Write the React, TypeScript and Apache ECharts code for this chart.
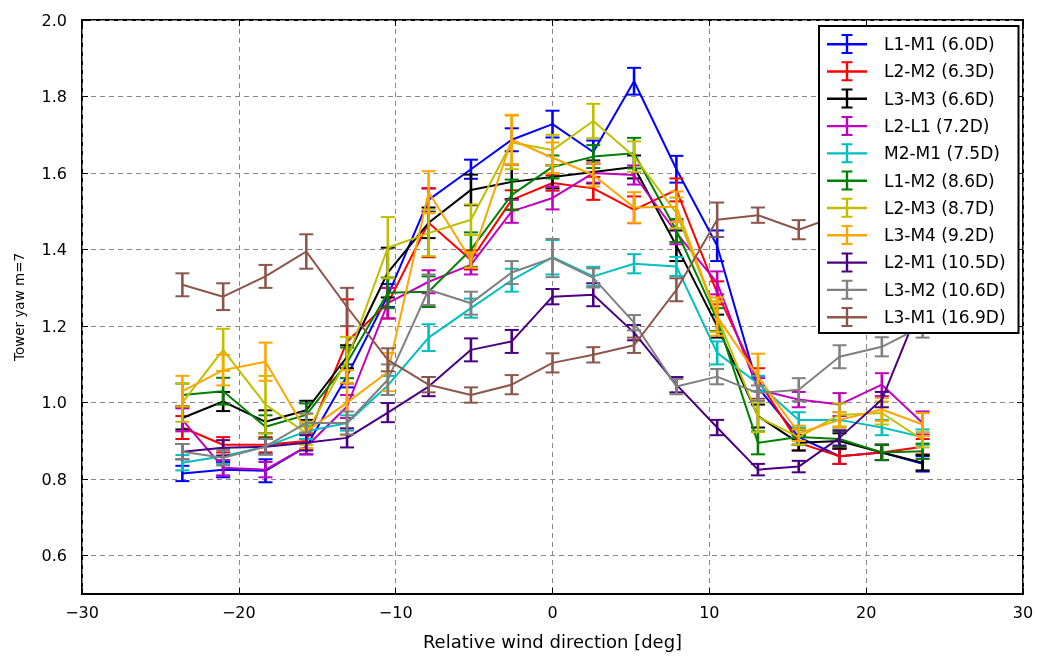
import React, { useEffect, useRef } from "react";
import * as echarts from "echarts";

const windDir = [-23.6, -21.0, -18.3, -15.7, -13.1, -10.5, -7.9, -5.2, -2.6, 0, 2.6, 5.2, 7.9, 10.5, 13.1, 15.7, 18.3, 21.0, 23.6];

const l1m1 = [0.815, 0.825, 0.822, 0.885, 1.07, 1.28, 1.53, 1.61, 1.687, 1.728, 1.655, 1.84, 1.61, 1.41, 1.04, 0.91, 0.86, 0.87, 0.84];
const l1m1Err = [0.02, 0.02, 0.03, 0.02, 0.03, 0.03, 0.03, 0.025, 0.03, 0.035, 0.03, 0.035, 0.035, 0.04, 0.03, 0.02, 0.02, 0.02, 0.02];
const l2m2 = [0.935, 0.89, 0.89, 0.9, 1.16, 1.26, 1.47, 1.373, 1.53, 1.574, 1.56, 1.504, 1.556, 1.287, 1.06, 0.895, 0.86, 0.87, 0.885];
const l2m2Err = [0.03, 0.02, 0.02, 0.02, 0.11, 0.04, 0.09, 0.025, 0.025, 0.02, 0.03, 0.035, 0.03, 0.03, 0.03, 0.02, 0.02, 0.02, 0.02];
const l3m3 = [0.96, 1.003, 0.95, 0.98, 1.12, 1.34, 1.47, 1.556, 1.577, 1.59, 1.603, 1.616, 1.41, 1.2, 0.965, 0.895, 0.9, 0.87, 0.843];
const l3m3Err = [0.03, 0.025, 0.03, 0.025, 0.03, 0.065, 0.04, 0.04, 0.045, 0.03, 0.03, 0.03, 0.04, 0.03, 0.03, 0.02, 0.02, 0.02, 0.02];
const l2l1 = [0.955, 0.83, 0.825, 0.885, 0.99, 1.26, 1.316, 1.36, 1.5, 1.535, 1.6, 1.595, 1.444, 1.313, 1.034, 1.008, 0.995, 1.047, 0.947];
const l2l1Err = [0.03, 0.02, 0.02, 0.02, 0.03, 0.04, 0.03, 0.025, 0.03, 0.03, 0.025, 0.025, 0.03, 0.03, 0.03, 0.02, 0.03, 0.03, 0.03];
const m2m1 = [0.843, 0.86, 0.885, 0.925, 0.947, 1.045, 1.17, 1.247, 1.32, 1.38, 1.33, 1.363, 1.356, 1.13, 1.05, 0.955, 0.955, 0.935, 0.91];
const m2m1Err = [0.02, 0.02, 0.02, 0.02, 0.02, 0.025, 0.035, 0.025, 0.03, 0.045, 0.025, 0.025, 0.025, 0.03, 0.02, 0.02, 0.02, 0.02, 0.02];
const l1m2 = [1.02, 1.03, 0.937, 0.968, 1.104, 1.287, 1.29, 1.4, 1.543, 1.616, 1.643, 1.652, 1.45, 1.217, 0.895, 0.91, 0.905, 0.87, 0.873];
const l1m2Err = [0.03, 0.035, 0.03, 0.03, 0.04, 0.04, 0.04, 0.045, 0.04, 0.03, 0.03, 0.04, 0.03, 0.03, 0.03, 0.02, 0.02, 0.02, 0.02];
const l2m3 = [1.0, 1.138, 0.995, 0.92, 1.112, 1.405, 1.443, 1.478, 1.68, 1.66, 1.736, 1.643, 1.496, 1.225, 0.963, 0.91, 0.968, 0.973, 0.903];
const l2m3Err = [0.05, 0.055, 0.075, 0.03, 0.06, 0.08, 0.06, 0.04, 0.07, 0.04, 0.045, 0.04, 0.04, 0.04, 0.04, 0.02, 0.03, 0.03, 0.02];
const l3m4 = [1.03, 1.085, 1.107, 0.925, 1.0, 1.08, 1.55, 1.373, 1.687, 1.64, 1.595, 1.51, 1.512, 1.225, 1.068, 0.92, 0.955, 0.982, 0.943];
const l3m4Err = [0.04, 0.04, 0.05, 0.045, 0.085, 0.05, 0.055, 0.02, 0.065, 0.04, 0.03, 0.04, 0.04, 0.05, 0.06, 0.02, 0.02, 0.03, 0.03];
const l2m1 = [0.872, 0.882, 0.885, 0.895, 0.908, 0.974, 1.042, 1.138, 1.16, 1.277, 1.282, 1.183, 1.047, 0.935, 0.825, 0.833, 0.908, 1.008, 1.27];
const l2m1Err = [0.02, 0.02, 0.02, 0.02, 0.025, 0.025, 0.025, 0.03, 0.03, 0.02, 0.03, 0.02, 0.02, 0.02, 0.015, 0.015, 0.02, 0.02, 0.03];
const l3m2 = [0.872, 0.856, 0.885, 0.947, 0.947, 1.06, 1.295, 1.26, 1.34, 1.378, 1.326, 1.209, 1.042, 1.068, 1.025, 1.034, 1.12, 1.146, 1.2];
const l3m2Err = [0.02, 0.02, 0.02, 0.025, 0.03, 0.04, 0.04, 0.03, 0.03, 0.05, 0.025, 0.02, 0.02, 0.02, 0.02, 0.03, 0.03, 0.025, 0.03];
const l3m1 = [1.308, 1.277, 1.33, 1.395, 1.25, 1.112, 1.047, 1.02, 1.047, 1.104, 1.125, 1.15, 1.295, 1.478, 1.49, 1.452, 1.49, 1.5, 1.52];
const l3m1Err = [0.03, 0.035, 0.03, 0.045, 0.05, 0.03, 0.02, 0.02, 0.025, 0.025, 0.02, 0.02, 0.03, 0.045, 0.02, 0.025, 0.03, 0.03, 0.03];

const seriesNames = [
  "L1-M1 (6.0D)", "L2-M2 (6.3D)", "L3-M3 (6.6D)", "L2-L1 (7.2D)", "M2-M1 (7.5D)", "L1-M2 (8.6D)",
  "L2-M3 (8.7D)", "L3-M4 (9.2D)", "L2-M1 (10.5D)", "L3-M2 (10.6D)", "L3-M1 (16.9D)",
];
const seriesValues = [l1m1, l2m2, l3m3, l2l1, m2m1, l1m2, l2m3, l3m4, l2m1, l3m2, l3m1];
const seriesErrors = [l1m1Err, l2m2Err, l3m3Err, l2l1Err, m2m1Err, l1m2Err, l2m3Err, l3m4Err, l2m1Err, l3m2Err, l3m1Err];
const seriesColors = ["#0000ff", "#ff0000", "#000000", "#bf00bf", "#00bfbf", "#008000", "#bfbf00", "#ffa500", "#4b0082", "#808080", "#8c564b"];

const yTicks = [0.6, 0.8, 1.0, 1.2, 1.4, 1.6, 1.8, 2.0];
const FONT = "DejaVu Sans";

const legendIcon =
  "path://M0,10L40,10L40,12.4L0,12.4Z M18.8,1L21.2,1L21.2,21L18.8,21Z M14.5,1L25.5,1L25.5,3L14.5,3Z M14.5,19L25.5,19L25.5,21L14.5,21Z M52,11L52,11.01L51.99,11.01Z";

const minus = (v: number) => String(v).replace("-", "\u2212");

export default function App() {
  const ref = useRef<HTMLDivElement>(null);
  useEffect(() => {
    if (!ref.current) return;
    const chart = echarts.init(ref.current, undefined, { renderer: "svg" });
    const series: any[] = [];
    seriesNames.forEach((name, i) => {
      const color = seriesColors[i];
      series.push({
        name: "err-" + i,
        type: "custom",
        z: 10 + i * 2,
        itemStyle: { color },
        data: windDir.map((x, k) => [x, seriesValues[i][k], seriesErrors[i][k]]),
        encode: { x: 0, y: 1 },
        renderItem: (params: any, api: any) => {
          const x = api.value(0);
          const y = api.value(1);
          const e = api.value(2);
          const top = api.coord([x, y + e]);
          const bot = api.coord([x, y - e]);
          const w = 7;
          const st = { stroke: color, lineWidth: 2 };
          return {
            type: "group",
            children: [
              { type: "line", shape: { x1: top[0], y1: top[1], x2: bot[0], y2: bot[1] }, style: { ...st, lineWidth: 2.6 } },
              { type: "line", shape: { x1: top[0] - w, y1: top[1], x2: top[0] + w, y2: top[1] }, style: st },
              { type: "line", shape: { x1: bot[0] - w, y1: bot[1], x2: bot[0] + w, y2: bot[1] }, style: st },
            ],
          };
        },
      });
      series.push({
        name,
        type: "line",
        z: 11 + i * 2,
        symbol: "none",
        itemStyle: { color },
        lineStyle: { color, width: 2 },
        data: windDir.map((x, k) => [x, seriesValues[i][k]]),
      });
    });

    const tickStyle = { inside: true, length: 6, lineStyle: { color: "#000", width: 1 } };
    const noLine = { show: false, onZero: false };
    chart.setOption({
      animation: false,
      grid: { left: 82, right: 16, top: 20, bottom: 62, show: true, borderColor: "#000", borderWidth: 2, backgroundColor: "transparent" },
      legend: {
        orient: "vertical",
        left: 819,
        top: 26,
        z: 100,
        backgroundColor: "#ffffff",
        borderColor: "#000",
        borderWidth: 2,
        padding: [8, 13, 6, 8],
        itemWidth: 52,
        itemHeight: 22,
        itemGap: 7.3,
        icon: legendIcon,
        itemStyle: { borderWidth: 0 },
        textStyle: { fontSize: 17, fontFamily: FONT, color: "#000" },
        data: seriesNames,
      },
      xAxis: [
        {
          type: "value",
          min: -30,
          max: 30,
          interval: 10,
          position: "bottom",
          axisLine: noLine,
          axisTick: tickStyle,
          axisLabel: { formatter: (v: number) => minus(v), fontSize: 16, fontFamily: FONT, color: "#000", margin: 10 },
          splitLine: { show: true, lineStyle: { color: "#888", type: [5, 4], width: 1 } },
          name: "Relative wind direction [deg]",
          nameLocation: "middle",
          nameGap: 38,
          nameTextStyle: { fontSize: 18, fontFamily: FONT, color: "#000" },
        },
        {
          type: "value",
          min: -30,
          max: 30,
          interval: 10,
          position: "top",
          axisLine: noLine,
          axisTick: tickStyle,
          axisLabel: { show: false },
          splitLine: { show: false },
        },
      ],
      yAxis: [
        {
          type: "value",
          min: 0.5,
          max: 2.0,
          position: "left",
          axisLine: noLine,
          axisTick: { ...tickStyle, customValues: yTicks },
          axisLabel: { customValues: yTicks, formatter: (v: number) => v.toFixed(1), fontSize: 16, fontFamily: FONT, color: "#000", margin: 15 },
          splitLine: { show: true, lineStyle: { color: "#888", type: [5, 4], width: 1 } },
          name: "Tower yaw m=7",
          nameLocation: "middle",
          nameRotate: 90,
          nameGap: 56,
          nameTextStyle: { fontSize: 13.5, fontFamily: FONT, color: "#000" },
        },
        {
          type: "value",
          min: 0.5,
          max: 2.0,
          position: "right",
          axisLine: noLine,
          axisTick: { ...tickStyle, customValues: yTicks },
          axisLabel: { show: false },
          splitLine: { show: false },
        },
      ],
      series,
    });
    return () => chart.dispose();
  }, []);
  return <div ref={ref} style={{ position: "fixed", left: 0, top: 0, width: 1039, height: 656 }} />;
}
